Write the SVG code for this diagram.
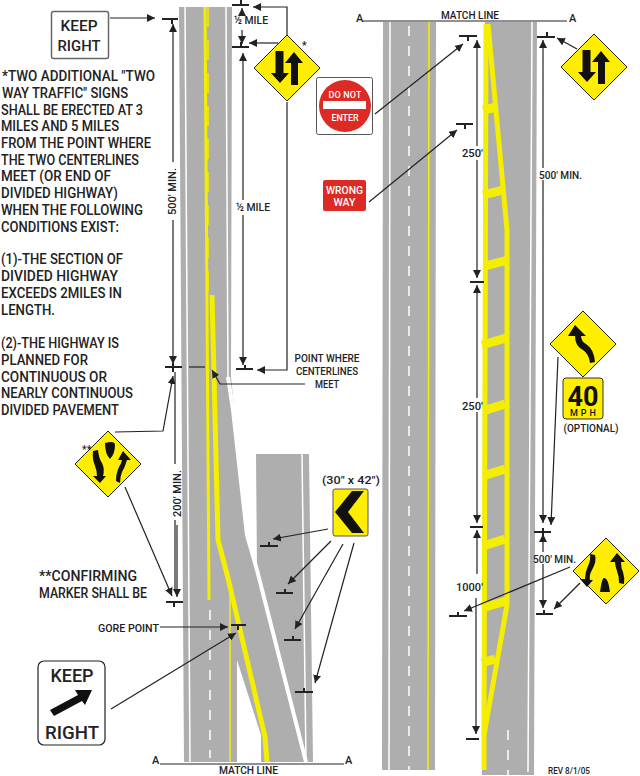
<svg xmlns="http://www.w3.org/2000/svg" width="640" height="776" viewBox="0 0 640 776">
<style>
text{font-family:"Roboto","Liberation Sans",sans-serif;font-weight:500;fill:#222}
.n{font-size:14px}
.m{font-size:11px}
.s{font-size:10.5px}
.road{fill:#aeaeae}
.wl{fill:none;stroke:#fff;stroke-width:1.5}
.wd{fill:none;stroke:#fff;stroke-width:1.5;stroke-dasharray:10 10}
.yt{fill:none;stroke:#f4ee00;stroke-width:1.5}
.y{fill:none;stroke:#f4ee00;stroke-width:5}
.yb{fill:none;stroke:#f4ee00;stroke-width:9}
.c{fill:none;stroke:#222;stroke-width:1.2}
.d{fill:none;stroke:#222;stroke-width:1.2}
.t{fill:none;stroke:#222;stroke-width:2}
.dia{fill:#ffee00;stroke:#222;stroke-width:1;stroke-linejoin:round}
.k{fill:#111}
</style>
<defs>
<marker id="a" markerUnits="userSpaceOnUse" markerWidth="9" markerHeight="8" refX="8" refY="4" orient="auto"><path d="M0 0L8 4L0 8z" fill="#222"/></marker>
<polygon id="dm" class="dia" points="0,-33 33,0 0,33 -33,0"/>
<g id="two"><use href="#dm"/><path class="k" d="M-11.5-17H-3.5V5H2L-7 15L-16 5H-11.5zM4 17V-5H-2L7-16L16-5H11V17z"/></g>
</defs>

<g id="roads">
<path class="road" d="M179 7H232L231 377L247 535L257 570L256 454H309L313 762H307H261V735L237 660V762H184z"/>
<path class="road" d="M383 22H436L435 770H382z"/>
<path class="road" d="M485 22H537L534 775H482z"/>
<path class="wl" d="M185 7L190 762"/>
<path class="wl" d="M226 7L228 377"/>
<path class="wl" d="M302 454L306 762" />
<path d="M228 377L233 410L247 535L257 570L306 762" fill="none" stroke="#fff" stroke-width="4"/>
<path class="wd" d="M210 610V758"/>
<path class="wl" d="M390 22L389 770"/>
<path class="wd" d="M409 26V770"/>
<path class="wl" d="M532 22L528 772"/>
<path class="wd" d="M508 730V775"/>
<path fill="none" stroke="#f4ee00" stroke-width="1.5" d="M429 22L428 770"/>
</g>
<g id="markings">
<path d="M205 7L209 600" fill="none" stroke="#f4ee00" stroke-width="3"/>
<path d="M208 7V295" fill="none" stroke="#f4ee00" stroke-width="1.5" stroke-dasharray="20 13"/>
<path class="y" d="M212 295L218 540L228 578L265 737L267 762"/>
<path class="yt" d="M230 590V762"/>
<path d="M486 24L484 735V770" fill="none" stroke="#f4ee00" stroke-width="5"/>
<path d="M488 24L507 230V605L484 735" fill="none" stroke="#f4ee00" stroke-width="5"/>
<path class="yb" d="M483 110L497 107M483 195L503 190M485 266L508 260M482 345L506 338M483 411L505 404M483 476L505 469M483 546L505 539M482 608L506 601M482 663L495 659"/>
</g>

<g id="connectors">
<path class="c" marker-end="url(#a)" d="M110 18H155"/>
<path class="c" marker-end="url(#a)" d="M287 35V7H253"/>
<path class="c" marker-end="url(#a)" d="M278 43H249"/>
<path class="c" marker-end="url(#a)" d="M287 102V370H257"/>
<path class="d" marker-end="url(#a)" d="M242 14V8"/>
<path class="d" marker-end="url(#a)" d="M242 30V44"/>
<path class="d" marker-end="url(#a)" d="M243 200V53"/>
<path class="d" marker-end="url(#a)" d="M243 215V365"/>
<path class="d" marker-end="url(#a)" d="M173 162V24"/>
<path class="d" marker-end="url(#a)" d="M173 220V364"/>
<path class="d" d="M175 372V464M175 520V590"/>
<path class="d" marker-end="url(#a)" d="M177 525V597"/>
<path class="c" marker-end="url(#a)" d="M115 432L163 431L173 376"/>
<path class="c" marker-end="url(#a)" d="M125 487L172 596"/>
<path class="c" marker-end="url(#a)" d="M305 384H220L212 370"/>
<path class="c" d="M189 367H205"/>
<path class="c" marker-end="url(#a)" d="M160 627H228"/>
<path class="c" marker-end="url(#a)" d="M111 709L236 633"/>
<path class="c" marker-end="url(#a)" d="M328 529L273 539"/>
<path class="c" marker-end="url(#a)" d="M331 541L288 584"/>
<path class="c" marker-end="url(#a)" d="M343 544L295 629"/>
<path class="c" marker-end="url(#a)" d="M354 543L315 683"/>
<path class="c" marker-end="url(#a)" d="M375 114L463 44"/>
<path class="c" marker-end="url(#a)" d="M369 202L457 130"/>
<path class="d" marker-end="url(#a)" d="M477 146V40"/>
<path class="d" marker-end="url(#a)" d="M477 160V278"/>
<path class="d" marker-end="url(#a)" d="M477 398V285"/>
<path class="d" marker-end="url(#a)" d="M477 412V523"/>
<path class="d" marker-end="url(#a)" d="M477 574V530"/>
<path class="d" marker-end="url(#a)" d="M476 598V734"/>
<path class="t" d="M470 282H484M470 527H483M466 739H479"/>
<path class="d" marker-end="url(#a)" d="M543 168V40"/>
<path class="d" marker-end="url(#a)" d="M543 180V523"/>
<path class="d" marker-end="url(#a)" d="M543 552V534"/>
<path class="d" marker-end="url(#a)" d="M543 564V608"/>
<path class="c" marker-end="url(#a)" d="M577 49L557 38"/>
<path class="c" marker-end="url(#a)" d="M558 357L551 525"/>
<path class="c" marker-end="url(#a)" d="M570 567L464 611"/>
<path class="c" marker-end="url(#a)" d="M580 583L554 609"/>
<path class="c" d="M363 21H567M160 764H344"/>
</g>

<g id="post-markers">
<path class="t" d="M162 19H178M172 19V24M232 5H249M241 0V5M232 47H249M241 42V47M236 369H253M245 365V369M165 367H182M173 363V372M166 602H183M174 602V607M231 625H246M238 625V630M260 546H278M269 542V546M276 593H293M285 589V593M284 640H301M293 636V640M295 692H313M304 688V692M459 36H477M468 36V41M456 124H473M465 124V129M537 37H555M547 32V37M534 532H551M543 528V536M536 614H553M544 610V614M449 616H467M458 612V616"/>
</g>

<g id="sign-keep-right-small">
<rect x="51.5" y="11.5" width="57" height="47" rx="2" fill="#fff" stroke="#666" stroke-width="1.5"/>
<text x="79" y="31" text-anchor="middle" style="font-size:14.5px" textLength="37" lengthAdjust="spacingAndGlyphs">KEEP</text>
<text x="79" y="51" text-anchor="middle" style="font-size:14.5px" textLength="43" lengthAdjust="spacingAndGlyphs">RIGHT</text>
</g>
<g id="sign-two-way-1"><use href="#two" x="287" y="68"/><text x="302" y="49" class="s">*</text></g>
<g id="sign-two-way-2"><use href="#two" x="594" y="67"/></g>
<g id="sign-do-not-enter">
<rect x="316.5" y="77.5" width="56" height="57" rx="2" fill="#fff" stroke="#555" stroke-width="1"/>
<circle cx="345" cy="106" r="26" fill="#dc2a25"/>
<rect x="323" y="101" width="43" height="8" fill="#fff"/>
<text x="345" y="98" text-anchor="middle" style="font-size:9px;fill:#fff" textLength="33" lengthAdjust="spacing">DO  NOT</text>
<text x="345" y="121" text-anchor="middle" style="font-size:9px;fill:#fff" textLength="27" lengthAdjust="spacingAndGlyphs">ENTER</text>
</g>
<g id="sign-wrong-way">
<rect x="323" y="180" width="43" height="31" rx="2" fill="#dc2a25"/>
<text x="344.500" y="194" text-anchor="middle" style="font-size:11px;fill:#fff" textLength="37" lengthAdjust="spacingAndGlyphs">WRONG</text>
<text x="344.500" y="206" text-anchor="middle" style="font-size:11px;fill:#fff" textLength="22" lengthAdjust="spacingAndGlyphs">WAY</text>
</g>
<g id="sign-divided-start">
<use href="#dm" x="108" y="464"/>
<path class="k" d="M105 444Q115 441 115 446Q115 455 110 460Q105 455 105 444zM93 452L98 451Q99 460 102 464Q105 470 103 477H106L100 484L93 477H97Q97 472 95 467Q92 460 93 452zM123 452L131 461H127Q125 468 122 473Q120 478 120 484L116 482Q116 474 119 468Q121 465 122 461H118z" transform="translate(0 -1)"/>
<text x="82" y="453" class="s">**</text>
</g>
<g id="sign-keep-right-large">
<rect x="38" y="661" width="67" height="84" rx="6" fill="#fff" stroke="#222" stroke-width="1.2"/>
<text x="72" y="682" text-anchor="middle" style="font-size:18px" textLength="43" lengthAdjust="spacingAndGlyphs">KEEP</text>
<text x="72" y="739" text-anchor="middle" style="font-size:18px" textLength="54" lengthAdjust="spacingAndGlyphs">RIGHT</text>
<path class="k" d="M50 710L78 695L75 690L92 690L85 705L82 701L54 716z"/>
</g>
<g id="sign-chevron">
<rect x="333" y="489" width="35" height="47" rx="2" fill="#ffee00" stroke="#555" stroke-width="1"/>
<path class="k" d="M364 491H352L335 512L352 533H364L348 512z"/>
<text x="351" y="484" text-anchor="middle" class="m" textLength="58" lengthAdjust="spacingAndGlyphs">(30" x 42")</text>
</g>
<g id="sign-curve">
<use href="#dm" x="583" y="344"/>
<path class="k" d="M575 325L586 336H581Q581 341 586 344Q594 349 595 362L590 363Q589 354 583 350Q575 346 575 336H568z" transform="translate(0 0)"/>
</g>
<g id="sign-40-mph">
<rect x="563" y="378" width="40" height="41" rx="3" fill="#ffee00" stroke="#333" stroke-width="1"/>
<text x="583" y="406" text-anchor="middle" style="font-size:28px;font-weight:700;fill:#111" textLength="31" lengthAdjust="spacingAndGlyphs">40</text>
<text x="583" y="416" text-anchor="middle" style="font-size:9px;fill:#111" textLength="26" lengthAdjust="spacing">MPH</text>
<text x="591" y="432" text-anchor="middle" class="m" textLength="55" lengthAdjust="spacingAndGlyphs">(OPTIONAL)</text>
</g>
<g id="sign-divided-end">
<use href="#dm" x="606" y="571"/>
<path class="k" d="M590 554L595 555Q597 561 592 570Q589 575 590 580H593L587 587L580 579H585Q585 572 588 566Q591 560 590 554zM617 553L625 562H621Q621 568 623 572Q625 578 624 584L619 583Q619 576 617 571Q615 565 615 562H610zM600 592Q602 577 604 578Q608 577 610 592z"/>
</g>

<g id="labels">
<text class="n" x="2" y="81" textLength="153" lengthAdjust="spacingAndGlyphs">*TWO ADDITIONAL "TWO</text>
<text class="n" x="2" y="98" textLength="126" lengthAdjust="spacingAndGlyphs">WAY TRAFFIC" SIGNS</text>
<text class="n" x="1" y="115" textLength="142" lengthAdjust="spacingAndGlyphs">SHALL BE ERECTED AT 3</text>
<text class="n" x="1" y="131" textLength="118" lengthAdjust="spacingAndGlyphs">MILES AND 5 MILES</text>
<text class="n" x="1" y="148" textLength="150" lengthAdjust="spacingAndGlyphs">FROM THE POINT WHERE</text>
<text class="n" x="1" y="165" textLength="138" lengthAdjust="spacingAndGlyphs">THE TWO CENTERLINES</text>
<text class="n" x="1" y="181" textLength="110" lengthAdjust="spacingAndGlyphs">MEET (OR END OF</text>
<text class="n" x="1" y="198" textLength="117" lengthAdjust="spacingAndGlyphs">DIVIDED HIGHWAY)</text>
<text class="n" x="1" y="215" textLength="142" lengthAdjust="spacingAndGlyphs">WHEN THE FOLLOWING</text>
<text class="n" x="1" y="232" textLength="118" lengthAdjust="spacingAndGlyphs">CONDITIONS EXIST:</text>
<text class="n" x="1" y="264" textLength="122" lengthAdjust="spacingAndGlyphs">(1)-THE SECTION OF</text>
<text class="n" x="1" y="281" textLength="117" lengthAdjust="spacingAndGlyphs">DIVIDED HIGHWAY</text>
<text class="n" x="1" y="298" textLength="121" lengthAdjust="spacingAndGlyphs">EXCEEDS 2MILES IN</text>
<text class="n" x="1" y="315" textLength="54" lengthAdjust="spacingAndGlyphs">LENGTH.</text>
<text class="n" x="1" y="348" textLength="118" lengthAdjust="spacingAndGlyphs">(2)-THE HIGHWAY IS</text>
<text class="n" x="1" y="365" textLength="87" lengthAdjust="spacingAndGlyphs">PLANNED FOR</text>
<text class="n" x="1" y="382" textLength="106" lengthAdjust="spacingAndGlyphs">CONTINUOUS OR</text>
<text class="n" x="1" y="398" textLength="132" lengthAdjust="spacingAndGlyphs">NEARLY CONTINUOUS</text>
<text class="n" x="1" y="415" textLength="118" lengthAdjust="spacingAndGlyphs">DIVIDED PAVEMENT</text>
<text class="n" x="39" y="581" textLength="98" lengthAdjust="spacingAndGlyphs">**CONFIRMING</text>
<text class="n" x="39" y="598" textLength="108" lengthAdjust="spacingAndGlyphs">MARKER SHALL BE</text>
<text class="s" x="98" y="632" textLength="61" lengthAdjust="spacingAndGlyphs">GORE POINT</text>
<text class="m" x="327" y="362" text-anchor="middle" textLength="65" lengthAdjust="spacingAndGlyphs">POINT WHERE</text>
<text class="m" x="327" y="375" text-anchor="middle" textLength="62" lengthAdjust="spacingAndGlyphs">CENTERLINES</text>
<text class="m" x="327" y="388" text-anchor="middle" textLength="24" lengthAdjust="spacingAndGlyphs">MEET</text>
<text class="m" x="234" y="24" textLength="34" lengthAdjust="spacingAndGlyphs">½ MILE</text>
<text class="m" x="236" y="211" textLength="34" lengthAdjust="spacingAndGlyphs">½ MILE</text>
<text class="m" transform="translate(176 215) rotate(-90)" textLength="47" lengthAdjust="spacingAndGlyphs">500' MIN.</text>
<text class="m" transform="translate(181 517) rotate(-90)" textLength="47" lengthAdjust="spacingAndGlyphs">200' MIN.</text>
<text class="m" x="441" y="19" textLength="58" lengthAdjust="spacingAndGlyphs">MATCH LINE</text>
<text class="m" x="356" y="22">A</text>
<text class="m" x="569" y="22">A</text>
<text class="m" x="219" y="774" textLength="59" lengthAdjust="spacingAndGlyphs">MATCH LINE</text>
<text class="m" x="152" y="764">A</text>
<text class="m" x="345" y="764">A</text>
<text class="m" x="462" y="157" textLength="21" lengthAdjust="spacingAndGlyphs">250'</text>
<text class="m" x="462" y="410" textLength="21" lengthAdjust="spacingAndGlyphs">250'</text>
<text class="m" x="456" y="591" textLength="27" lengthAdjust="spacingAndGlyphs">1000'</text>
<text class="m" x="539" y="179" textLength="43" lengthAdjust="spacingAndGlyphs">500' MIN.</text>
<text class="m" x="533" y="563" textLength="43" lengthAdjust="spacingAndGlyphs">500' MIN.</text>
<text class="s" x="548" y="774" style="font-size:9px" textLength="42" lengthAdjust="spacingAndGlyphs">REV 8/1/05</text>
</g>
</svg>
